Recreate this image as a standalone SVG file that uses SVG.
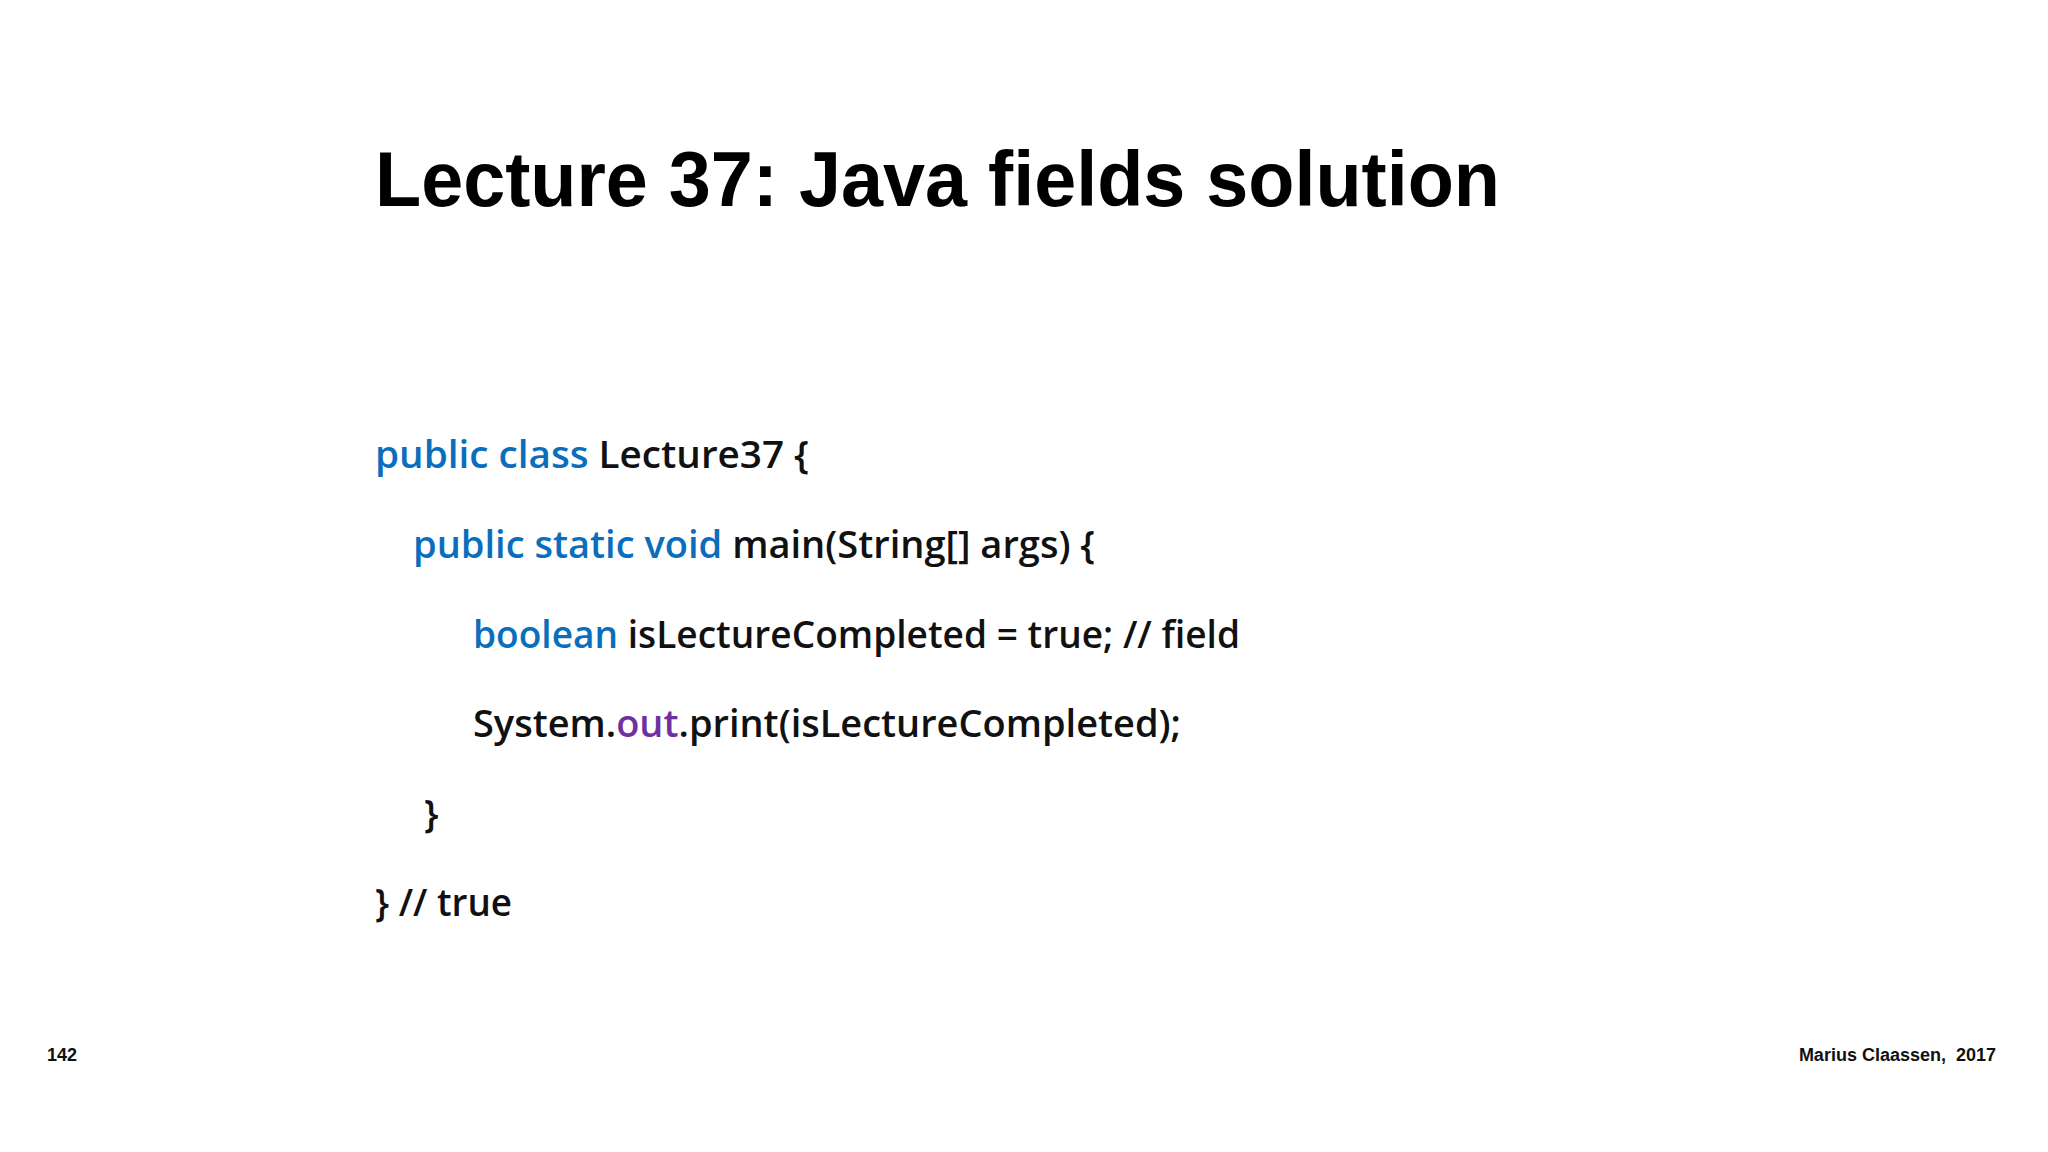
<svg xmlns="http://www.w3.org/2000/svg" width="2048" height="1152" viewBox="0 0 2048 1152">
<style>
.t{font-family:"Liberation Sans",Arial,sans-serif;font-weight:bold;fill:#000}
.c{font-family:"Open Sans","Liberation Sans",sans-serif;font-weight:600;font-size:38px;fill:#111}
.k{fill:#0B6EBD}
.p{fill:#7030A0}
.f{font-family:"Liberation Sans",Arial,sans-serif;font-weight:bold;font-size:18px;fill:#111}
</style>
<rect width="2048" height="1152" fill="#fff"/>
<g id="title"><text class="t" x="375" y="206" font-size="78" textLength="1125" lengthAdjust="spacingAndGlyphs">Lecture 37: Java fields solution</text></g>
<g id="code">
<text class="c" x="375" y="468" textLength="434" lengthAdjust="spacingAndGlyphs"><tspan class="k">public class</tspan> Lecture37 {</text>
<text class="c" x="413" y="558" textLength="682" lengthAdjust="spacingAndGlyphs"><tspan class="k">public static void</tspan> main(String[] args) {</text>
<text class="c" x="473" y="648" textLength="767" lengthAdjust="spacingAndGlyphs"><tspan class="k">boolean</tspan> isLectureCompleted = true; // field</text>
<text class="c" x="473" y="737" textLength="708" lengthAdjust="spacingAndGlyphs">System.<tspan class="p">out</tspan>.print(isLectureCompleted);</text>
<text class="c" x="424" y="827">}</text>
<text class="c" x="375" y="916" textLength="137" lengthAdjust="spacingAndGlyphs">}  // true</text>
</g>
<g id="footer">
<text class="f" x="47" y="1061">142</text>
<text class="f" x="1996" y="1061" text-anchor="end" xml:space="preserve">Marius Claassen,  2017</text>
</g>
</svg>
